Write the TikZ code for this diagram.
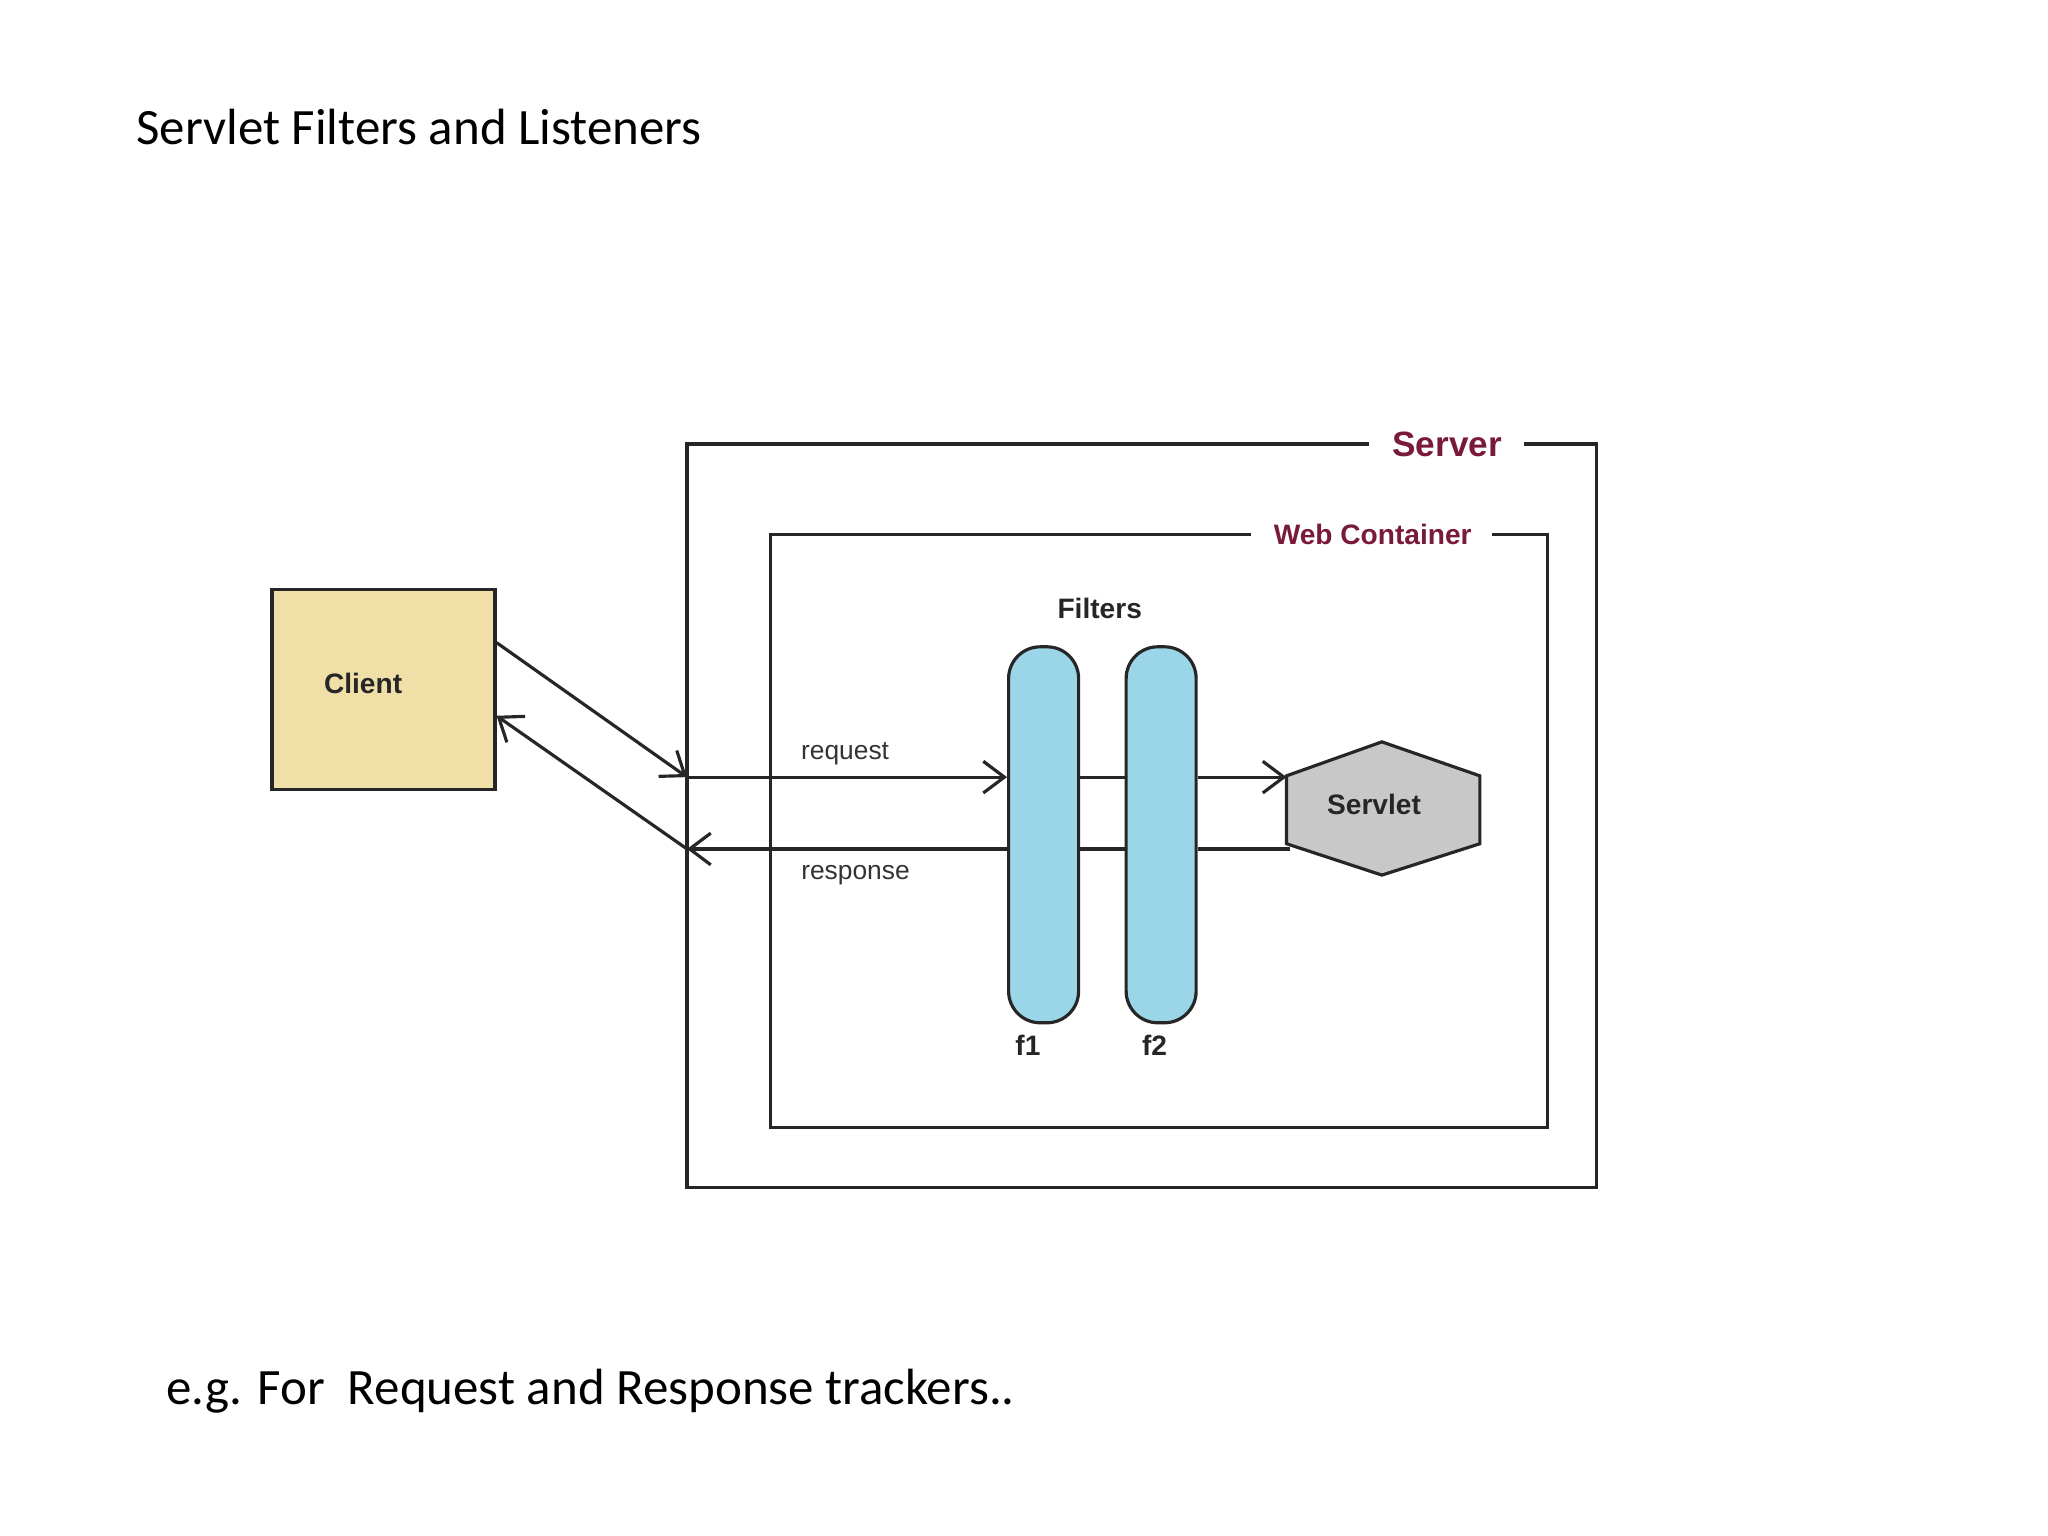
\documentclass[tikz,border=0pt]{standalone}
\usepackage{fontspec}
\setmainfont{Carlito}
\newfontfamily\arialf{Liberation Sans}
\usetikzlibrary{arrows.meta}
\definecolor{srvred}{HTML}{7A1A3A}
\definecolor{clientfill}{HTML}{F0E0A8}
\definecolor{filterfill}{HTML}{9AD6E8}
\definecolor{servletfill}{HTML}{C8C8C8}
\tikzset{
  box/.style={draw=black!85, line width=0.9pt},
  lbl/.style={font=\arialf\fontsize{7.5pt}{9pt}\selectfont, text=black!80},
  blbl/.style={font=\arialf\bfseries\fontsize{8pt}{10pt}\selectfont, text=black!85},
  filt/.style={draw=black!85, line width=0.9pt, fill=filterfill, rounded corners=9pt, minimum width=0.7cm, minimum height=3.76cm, inner sep=0pt},
  conn/.style={draw=black!85, line width=0.9pt},
  arr/.style={conn, -{Straight Barb[length=6pt,width=9pt]}},
  big/.style={font=\fontsize{14.5pt}{17pt}\selectfont, anchor=west}
}
\begin{document}
\begin{tikzpicture}[x=0.013061cm, y=-0.013061cm]
\useasboundingbox (0,0) rectangle (1568,1176);
\node[big] (title) at (95,97) {Servlet Filters and Listeners};
\node[big] (foot) at (118,1065) {e.g. For\ \ Request and Response trackers..};
% server
\draw[box] (1048,340) -- (526,340) -- (526,909) -- (1222,909) -- (1222,340) -- (1167,340);
\node[font=\arialf\bfseries\fontsize{10pt}{12pt}\selectfont, text=srvred] (srv) at (1108,340) {Server};
\draw[box] (958,409) -- (590,409) -- (590,863) -- (1185,863) -- (1185,409) -- (1142,409);
\node[font=\arialf\bfseries\fontsize{8pt}{10pt}\selectfont, text=srvred] (wc) at (1051,409) {Web Container};
% client
\node[box, fill=clientfill, minimum width=2.23cm, minimum height=2.0cm, anchor=north west] (client) at (207,450) {};
\node[blbl] at (278,523) {Client};
% filters
\node[blbl] (flt) at (842,466) {Filters};
\node[filt, anchor=north west] (f1) at (771,494) {};
\node[filt, anchor=north west] (f2) at (861,494) {};
\node[blbl] at (787,800) {f1};
\node[blbl] at (884,800) {f2};
% servlet
\draw[box, fill=servletfill] (985,594) -- (1058,568) -- (1133,594) -- (1133,646) -- (1058,670) -- (985,646) -- cycle;
\node[blbl] (servlet) at (1052,616) {Servlet};
% connectors
\coordinate (rqin) at (526,595);
\coordinate (rsout) at (526,650);
\coordinate (sv) at (985,595);
\coordinate (svr) at (988,650);
\draw[arr] (client.north east |- 0,492) -- (rqin);
\draw[arr] (rsout) -- (client.north east |- 0,548);
\draw[arr] (rqin) -- (f1.west |- rqin);
\draw[conn] (f1.east |- rqin) -- (f2.west |- rqin);
\draw[arr] (f2.east |- rqin) -- (sv);
\draw[conn] (svr) -- (f2.east |- svr);
\draw[conn] (f2.west |- svr) -- (f1.east |- svr);
\draw[arr] (f1.west |- svr) -- (rsout);
\node[lbl] at (647,577) {request};
\node[lbl] at (655,670) {response};
\end{tikzpicture}
\end{document}
